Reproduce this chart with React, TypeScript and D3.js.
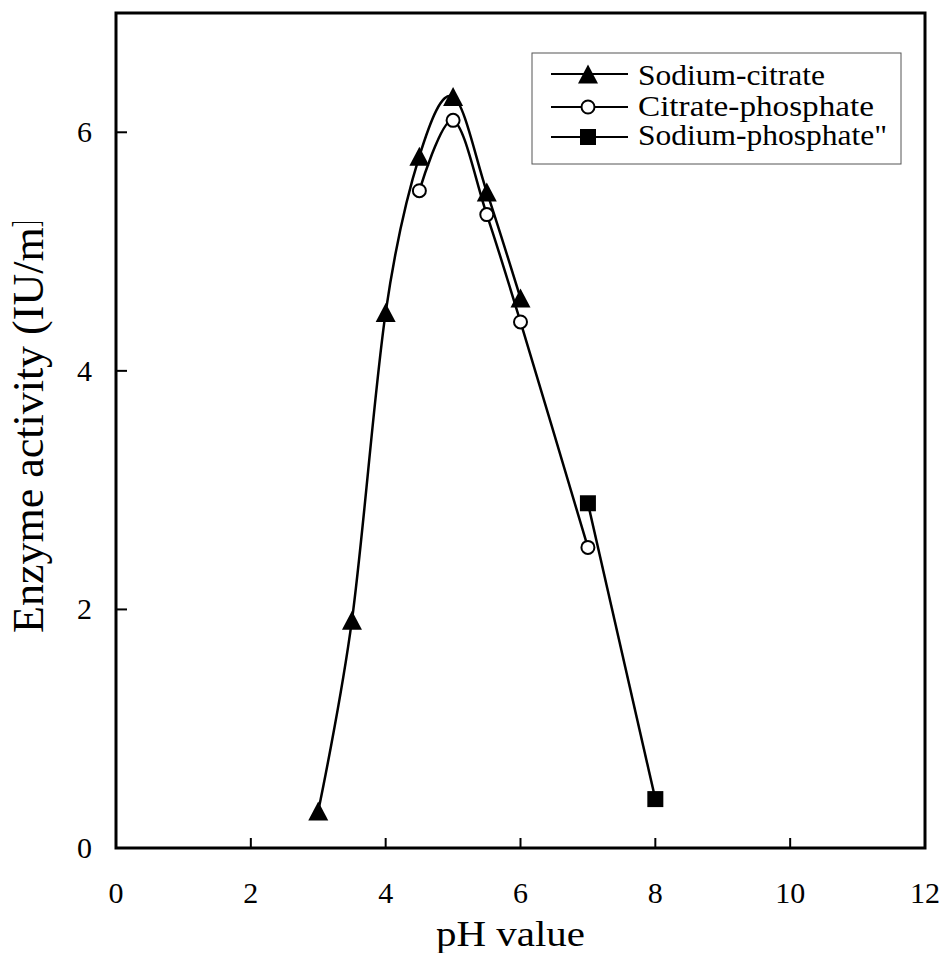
import React from "react";
import * as d3 from "d3";

const sodiumCitrateX = [3, 3.5, 4, 4.5, 5, 5.5, 6];
const sodiumCitrateY = [0.31, 1.91, 4.49, 5.8, 6.3, 5.5, 4.61];
const citratePhosphateX = [4.5, 5, 5.5, 6, 7];
const citratePhosphateY = [5.51, 6.1, 5.31, 4.41, 2.52];
const sodiumPhosphateX = [7, 8];
const sodiumPhosphateY = [2.89, 0.41];
const xTicks = [0, 2, 4, 6, 8, 10, 12];
const yTicks = [0, 2, 4, 6];
const legendLabels = ["Sodium-citrate", "Citrate-phosphate", 'Sodium-phosphate"'];
const legendWidths = [187, 236, 249];

const W = 944;
const H = 953;
const FONT = "'Liberation Serif', 'Times New Roman', Tinos, serif";

type Pt = [number, number];
const zip = (xs: number[], ys: number[]): Pt[] => xs.map((x, i) => [x, ys[i]]);

function Marker({ kind, cx, cy }: { kind: string; cx: number; cy: number }) {
  if (kind === "tri") {
    const w = 20, h = 19;
    const sym = `M${cx},${cy - h / 2} L${cx + w / 2},${cy + h / 2} L${cx - w / 2},${cy + h / 2} Z`;
    return <path d={sym} fill="#000" />;
  }
  if (kind === "circ") {
    return <circle cx={cx} cy={cy} r={6.5} fill="#fff" stroke="#000" strokeWidth={2} />;
  }
  return <rect x={cx - 8} y={cy - 8} width={16} height={16} fill="#000" />;
}

export default function App() {
  const x = d3.scaleLinear().domain([0, 12]).range([116, 925]);
  const y = d3.scaleLinear().domain([0, 7]).range([848, 13]);
  const line = d3
    .line<Pt>()
    .x((d) => x(d[0]))
    .y((d) => y(d[1]))
    .curve(d3.curveCardinal.tension(0));

  const series = [
    { data: zip(sodiumCitrateX, sodiumCitrateY), kind: "tri" },
    { data: zip(citratePhosphateX, citratePhosphateY), kind: "circ" },
    { data: zip(sodiumPhosphateX, sodiumPhosphateY), kind: "sq" },
  ];
  const legendRowY = [74, 107, 137];
  const legendBaseY = [85, 116, 145];

  return (
    <svg
      width={W}
      height={H}
      style={{ position: "absolute", left: 0, top: 0, background: "#fff", fontFamily: FONT }}
    >
      <defs>
        <clipPath id="ylabclip">
          <rect x={0} y={222} width={100} height={700} />
        </clipPath>
      </defs>
      <rect x={0} y={0} width={W} height={H} fill="#fff" />

      {/* ticks */}
      {xTicks.slice(1, -1).map((t) => (
        <line key={"xt" + t} x1={x(t)} x2={x(t)} y1={848} y2={838} stroke="#000" strokeWidth={2} />
      ))}
      {yTicks.slice(1).map((t) => (
        <line key={"yt" + t} x1={116} x2={127} y1={y(t)} y2={y(t)} stroke="#000" strokeWidth={2} />
      ))}

      {/* frame */}
      <rect x={x(0)} y={y(7)} width={x(12) - x(0)} height={y(0) - y(7)} fill="none" stroke="#000" strokeWidth={3} />

      {/* tick labels */}
      {xTicks.map((t) => (
        <text key={"xl" + t} x={x(t)} y={903} fontSize={30} textAnchor="middle">
          {t}
        </text>
      ))}
      {yTicks.map((t) => (
        <text key={"yl" + t} x={92} y={y(t) + 10} fontSize={30} textAnchor="end">
          {t}
        </text>
      ))}

      {/* axis titles */}
      <text x={436} y={946} fontSize={36} textLength={149} lengthAdjust="spacingAndGlyphs">
        pH value
      </text>
      <g clipPath="url(#ylabclip)">
        <text transform="translate(43,633) rotate(-90)" fontSize={44}>
          Enzyme activity (IU/ml)
        </text>
      </g>

      {/* series */}
      {series.map((s, i) => (
        <path key={"l" + i} d={line(s.data) || ""} fill="none" stroke="#000" strokeWidth={2.5} />
      ))}
      {series.map((s, i) =>
        s.data.map((d, j) => <Marker key={`m${i}-${j}`} kind={s.kind} cx={x(d[0])} cy={y(d[1])} />)
      )}

      {/* legend */}
      <rect x={532} y={53} width={369} height={111} fill="#fff" stroke="#555" strokeWidth={1} />
      {series.map((s, i) => (
        <g key={"lg" + i}>
          <line x1={551} x2={628} y1={legendRowY[i]} y2={legendRowY[i]} stroke="#000" strokeWidth={2} />
          <Marker kind={s.kind} cx={588} cy={legendRowY[i]} />
          <text
            x={638}
            y={legendBaseY[i]}
            fontSize={29}
            textLength={legendWidths[i]}
            lengthAdjust="spacingAndGlyphs"
          >
            {legendLabels[i]}
          </text>
        </g>
      ))}
    </svg>
  );
}
